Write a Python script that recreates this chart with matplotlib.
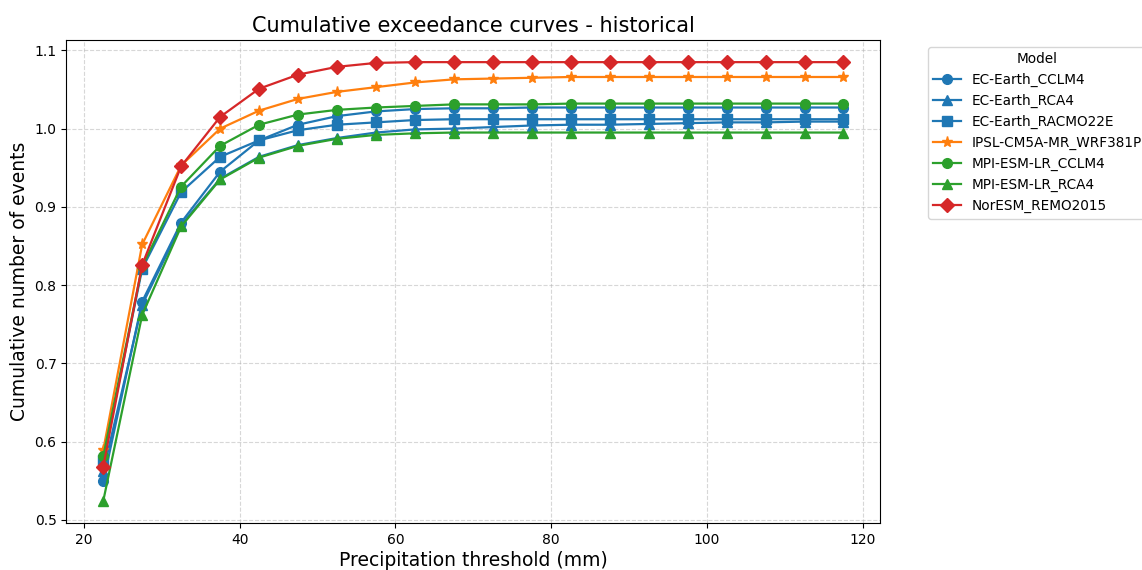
import matplotlib
matplotlib.use('Agg')
import matplotlib.pyplot as plt

# Umbrales de precipitación (mm)
thresholds = [22.5, 27.5, 32.5, 37.5, 42.5, 47.5, 52.5, 57.5, 62.5, 67.5,
              72.5, 77.5, 82.5, 87.5, 92.5, 97.5, 102.5, 107.5, 112.5, 117.5]

models = ['EC-Earth_CCLM4', 'EC-Earth_RCA4', 'EC-Earth_RACMO22E',
          'IPSL-CM5A-MR_WRF381P', 'MPI-ESM-LR_CCLM4', 'MPI-ESM-LR_RCA4',
          'NorESM_REMO2015']

# Número acumulado de eventos por modelo
ec_earth_cclm4 = [0.549, 0.779, 0.880, 0.945, 0.985, 1.005, 1.016, 1.022, 1.025, 1.026,
                  1.026, 1.027, 1.027, 1.027, 1.027, 1.027, 1.027, 1.027, 1.027, 1.027]
ec_earth_rca4 = [0.562, 0.775, 0.877, 0.936, 0.964, 0.979, 0.988, 0.995, 0.999, 1.000,
                 1.002, 1.004, 1.005, 1.005, 1.006, 1.007, 1.008, 1.008, 1.009, 1.009]
ec_earth_racmo = [0.577, 0.821, 0.919, 0.964, 0.985, 0.998, 1.005, 1.008, 1.011, 1.012,
                  1.012, 1.012, 1.012, 1.012, 1.012, 1.012, 1.012, 1.012, 1.012, 1.012]
ipsl_wrf = [0.589, 0.852, 0.953, 1.000, 1.023, 1.038, 1.047, 1.053, 1.059, 1.063,
            1.064, 1.065, 1.066, 1.066, 1.066, 1.066, 1.066, 1.066, 1.066, 1.066]
mpi_cclm4 = [0.581, 0.824, 0.926, 0.978, 1.005, 1.018, 1.024, 1.027, 1.029, 1.031,
             1.031, 1.031, 1.032, 1.032, 1.032, 1.032, 1.032, 1.032, 1.032, 1.032]
mpi_rca4 = [0.524, 0.762, 0.875, 0.935, 0.963, 0.978, 0.987, 0.992, 0.994, 0.995,
            0.995, 0.995, 0.995, 0.995, 0.995, 0.995, 0.995, 0.995, 0.995, 0.995]
noresm_remo = [0.568, 0.826, 0.952, 1.015, 1.051, 1.069, 1.079, 1.084, 1.085, 1.085,
               1.085, 1.085, 1.085, 1.085, 1.085, 1.085, 1.085, 1.085, 1.085, 1.085]

series = [ec_earth_cclm4, ec_earth_rca4, ec_earth_racmo, ipsl_wrf,
          mpi_cclm4, mpi_rca4, noresm_remo]
colors = ['tab:blue', 'tab:blue', 'tab:blue', 'tab:orange',
          'tab:green', 'tab:green', 'tab:red']
markers = ['o', '^', 's', '*', 'o', '^', 'D']

fig = plt.figure(figsize=(11.42, 5.70), dpi=100)
ax = fig.add_axes([0.058, 0.0825, 0.713, 0.847])

for name, vals, c, m in zip(models, series, colors, markers):
    ax.plot(thresholds, vals, marker=m, color=c, label=name,
            linewidth=1.6, markersize=7 if m != '*' else 8)

ax.set_title('Cumulative exceedance curves - historical', fontsize=15)
ax.set_xlabel('Precipitation threshold (mm)', fontsize=13.5, labelpad=3)
ax.set_ylabel('Cumulative number of events', fontsize=13.5)
ax.grid(True, linestyle='--', alpha=0.5)
ax.legend(title='Model', bbox_to_anchor=(1.05, 1), loc='upper left',
          fontsize=9.8, title_fontsize=9.8)

plt.savefig('out.png', dpi=100)
plt.close()
